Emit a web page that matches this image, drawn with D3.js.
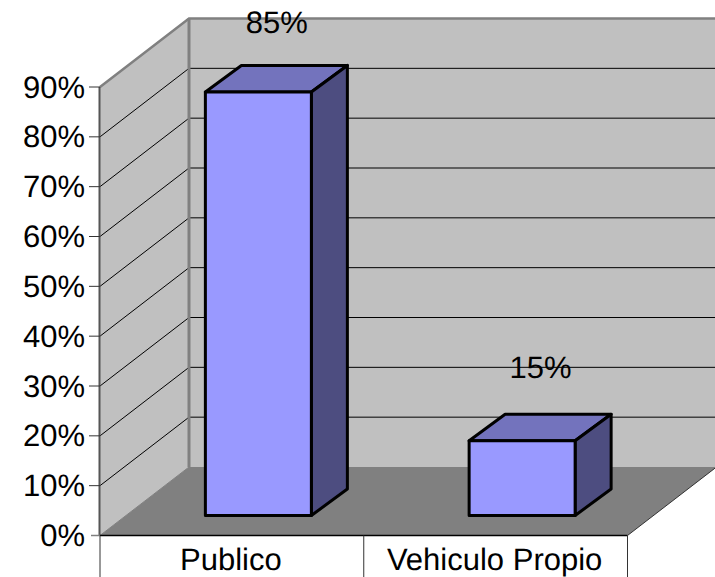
<!DOCTYPE html>
<html><head><meta charset="utf-8">
<style>html,body{margin:0;padding:0;background:#fff;overflow:hidden}svg{display:block}text{font-family:"Liberation Sans",Arial,sans-serif;fill:#000;text-rendering:geometricPrecision}</style>
<script src="https://cdn.jsdelivr.net/npm/d3@7"></script>
</head><body><svg id="c" width="715" height="577"></svg>
<script>
const categories = ["Publico", "Vehiculo Propio"];
const values = [85, 15];
const valueLabels = ["85%", "15%"];
const ticks = [0, 10, 20, 30, 40, 50, 60, 70, 80, 90];

const svg = d3.select("#c");
const x = d3.scaleBand().domain(categories).range([100, 627.5]);
const y = d3.scaleLinear().domain([0, 90]).range([535.5, 87]);
const wall = {dx: 89, dy: -68.5};
const barFront = {dx: 26.5, dy: -20};
const barDepth = {dx: 36, dy: -26.5};
const barW = 106;
const fontSize = 31;
const line = d3.line();
const poly = (pts, fill, stroke, sw) => svg.append("path").attr("d", line(pts) + "Z")
  .attr("fill", fill).attr("stroke", stroke || "none").attr("stroke-width", sw || 0).attr("stroke-linejoin", "round");
const x0 = x.range()[0], x1 = x.range()[1], yB = y(0), yT = y(90);

// walls and floor
poly([[x0, yB], [x0 + wall.dx, yB + wall.dy], [x0 + wall.dx, yT + wall.dy], [x0, yT]], "#c0c0c0");
poly([[x0 + wall.dx, yB + wall.dy], [715, yB + wall.dy], [715, yT + wall.dy], [x0 + wall.dx, yT + wall.dy]], "#c0c0c0");
poly([[x0, yB], [x1, yB], [x1 + wall.dx, yB + wall.dy], [x0 + wall.dx, yB + wall.dy]], "#808080");

// gridlines
ticks.slice(1).forEach(t => {
  svg.append("path").attr("d", line([[x0, y(t)], [x0 + wall.dx, y(t) + wall.dy], [715, y(t) + wall.dy]]))
    .attr("fill", "none").attr("stroke", "#000").attr("stroke-width", 1);
});

// wall outlines
svg.append("path").attr("d", line([[x0, yT], [x0 + wall.dx, yT + wall.dy], [715, yT + wall.dy]]))
  .attr("fill", "none").attr("stroke", "#808080").attr("stroke-width", 2.5);
svg.append("path").attr("d", line([[x0, yB], [x0 + wall.dx, yB + wall.dy]])).attr("stroke", "#808080").attr("stroke-width", 1);
svg.append("path").attr("d", line([[x0 + wall.dx, yB + wall.dy], [x0 + wall.dx, yT + wall.dy]]))
  .attr("stroke", "#808080").attr("stroke-width", 3);
svg.append("path").attr("d", line([[x1, yB], [x1 + wall.dx, yB + wall.dy]])).attr("stroke", "#333").attr("stroke-width", 1);

// axes
svg.append("path").attr("d", line([[x0 - 0.5, yB], [x0 - 0.5, yT]])).attr("stroke", "#555").attr("stroke-width", 2);
svg.append("path").attr("d", line([[x0 - 9, yB], [x0, yB]])).attr("stroke", "#808080").attr("stroke-width", 1.5);
svg.append("path").attr("d", line([[x0, yB], [x1, yB]])).attr("stroke", "#000").attr("stroke-width", 1.5);
[x0, x0 + x.bandwidth(), x1].forEach(v =>
  svg.append("path").attr("d", line([[v, yB], [v, 577]])).attr("stroke", "#333").attr("stroke-width", 1));
ticks.forEach(t => {
  if (t) svg.append("path").attr("d", line([[x0 - 11, y(t)], [x0, y(t)]])).attr("stroke", "#333").attr("stroke-width", 1);
  svg.append("text").attr("x", 85).attr("y", y(t) + 10.5).attr("text-anchor", "end").attr("font-size", fontSize).text(t + "%");
});
categories.forEach(c => {
  svg.append("text").attr("x", x(c) + x.bandwidth() / 2 - 1).attr("y", 570).attr("text-anchor", "middle").attr("font-size", fontSize).text(c);
});

// bars
categories.forEach((c, i) => {
  const l = x(c) + x.bandwidth() / 2 + barFront.dx - barW / 2, r = l + barW;
  const b = yB + barFront.dy, t = y(values[i]) + barFront.dy;
  const dx = barDepth.dx, dy = barDepth.dy;
  poly([[l, t], [r, t], [r + dx, t + dy], [l + dx, t + dy]], "#7373bd", "#000", 3);
  poly([[r, t], [r + dx, t + dy], [r + dx, b + dy], [r, b]], "#4d4d80", "#000", 3);
  poly([[l, t], [r, t], [r, b], [l, b]], "#9999ff", "#000", 3);
  svg.append("text").attr("x", (l + r) / 2 + dx / 2 + 0.5).attr("y", t + dy - 32 + (i ? -4 : 0) + 0)
    .attr("text-anchor", "middle").attr("font-size", fontSize).text(valueLabels[i]);
});
</script></body></html>
